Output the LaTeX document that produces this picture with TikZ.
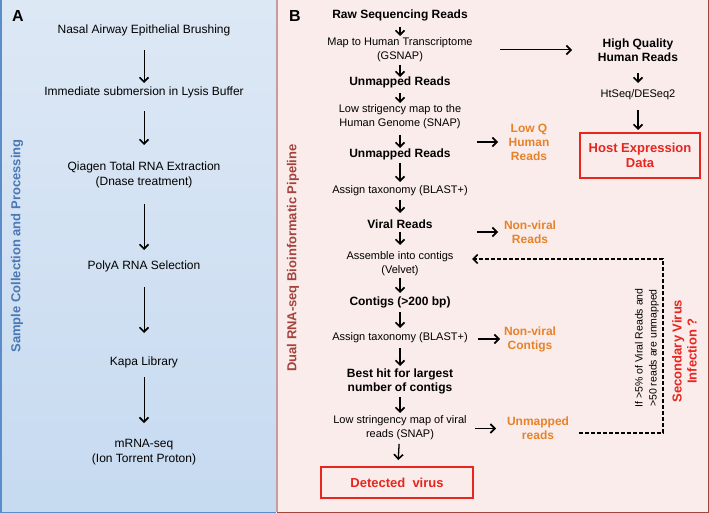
\documentclass[tikz,border=0pt]{standalone}
\usepackage{fontspec}
\setmainfont{Liberation Sans}
\usepackage{xcolor}
\usetikzlibrary{arrows.meta,calc}

\definecolor{bluetop}{HTML}{DDE8F5}
\definecolor{bluebot}{HTML}{C6DAF0}
\definecolor{blueedge}{HTML}{5A8DCA}
\definecolor{bluetext}{HTML}{4A78B5}
\definecolor{pinkfill}{HTML}{F9ECEA}
\definecolor{rededge}{HTML}{A4433E}
\definecolor{sepline}{HTML}{C79CA1}
\definecolor{outorange}{HTML}{E8822A}
\definecolor{resred}{HTML}{E8251F}

\begin{document}
\begin{tikzpicture}[x=1pt,y=-1pt,
    plainA/.style={font=\fontsize{12}{15}\selectfont, align=center},
    plainB/.style={font=\fontsize{11}{14}\selectfont, align=center},
    boldB/.style={font=\fontsize{12}{14}\selectfont\bfseries, align=center},
    outB/.style={boldB, text=outorange},
    boxB/.style={draw=resred, line width=1.8pt, text=resred, align=center,
        font=\fontsize{13}{15}\selectfont\bfseries},
    sidelabel/.style={rotate=90, font=\fontsize{13}{15}\selectfont\bfseries},
    panel/.style={font=\fontsize{16}{16}\selectfont\bfseries},
    flow/.style={-{Straight Barb[length=4.5pt,width=9pt,line width=1.6pt]}, line width=1pt},
    flowB/.style={-{Straight Barb[length=4.5pt,width=9pt,line width=1.6pt]}, line width=1.3pt},
    back/.style={-{Straight Barb[length=4.5pt,width=9pt,line width=1.6pt]}, line width=1.4pt,
        dash pattern=on 4pt off 2pt}
]
    \useasboundingbox (0,0) rectangle (709,513);

    % Panels
    \shade[top color=bluetop, bottom color=bluebot] (0,0) rectangle (276,513);
    \fill[pinkfill] (277,0) rectangle (709,513);
    \draw[blueedge, line width=1.5pt] (0.75,0) -- (0.75,512.25) -- (276,512.25);
    \draw[rededge, line width=1.5pt] (277,512.25) -- (708.25,512.25) -- (708.25,0);
    \draw[sepline, line width=2pt] (277,0) -- (277,511.5);

    % Panel A
    \node[panel] (labA) at (18,16) {A};
    \node[sidelabel, text=bluetext] (sideA) at (17,246) {Sample Collection and Processing};
    \node[plainA] (nasal) at (144,30) {Nasal Airway Epithelial Brushing};
    \node[plainA] (lysis) at (144,92) {Immediate submersion in Lysis Buffer};
    \node[plainA] (qiagen) at (144,174.5) {Qiagen Total RNA Extraction\\(Dnase treatment)};
    \node[plainA] (polya) at (144,266) {PolyA RNA Selection};
    \node[plainA] (kapa) at (144,362) {Kapa Library};
    \node[plainA] (mrna) at (144,452.5) {mRNA-seq\\(Ion Torrent Proton)};

    \foreach \a/\b/\s/\e in {nasal/lysis/20pt/9pt, lysis/qiagen/19pt/29.5pt,
        qiagen/polya/29.5pt/16pt, polya/kapa/21pt/29pt, kapa/mrna/15pt/29.5pt}
        \draw[flow, shorten <=\s, shorten >=\e] (\a.center) -- (\b.center);

    % Panel B
    \node[panel] (labB) at (295,16) {B};
    \node[sidelabel, text=rededge] (sideB) at (293,258) {Dual RNA-seq Bioinformatic Pipeline};

    % main column
    \node[boldB] (raw) at (400,15) {Raw Sequencing Reads};
    \node[plainB] (gsnap) at (400,50) {Map to Human Transcriptome\\(GSNAP)};
    \node[boldB] (unmapA) at (400,82) {Unmapped Reads};
    \node[plainB] (lowmap) at (400,116.5) {Low strigency map to the\\Human Genome (SNAP)};
    \node[boldB] (unmapB) at (400,154) {Unmapped Reads};
    \node[plainB] (blastA) at (400,191) {Assign taxonomy (BLAST+)};
    \node[boldB] (viral) at (400,224) {Viral Reads};
    \node[plainB] (velvet) at (400,263.5) {Assemble into contigs\\(Velvet)};
    \node[boldB] (contigs) at (400,302) {Contigs (>200 bp)};
    \node[plainB] (blastB) at (400,338) {Assign taxonomy (BLAST+)};
    \node[boldB] (besthit) at (400,381) {Best hit for largest\\number of contigs};
    \node[plainB] (snapviral) at (400,427.5) {Low stringency map of viral\\reads (SNAP)};
    \node[boxB, minimum width=152, minimum height=31] (detected) at (397,482.5) {Detected~ virus};

    \foreach \a/\b/\s/\e in {raw/gsnap/12pt/14pt, gsnap/unmapA/15pt/5pt,
        unmapA/lowmap/11pt/13.5pt, lowmap/unmapB/18.5pt/6pt, unmapB/blastA/9pt/9pt,
        blastA/viral/9pt/11pt, viral/velvet/8pt/18.5pt, velvet/contigs/14.5pt/9pt,
        contigs/blastB/10pt/10pt, blastB/besthit/10pt/15pt,
        besthit/snapviral/16pt/14.5pt, snapviral/detected/16.5pt/22.5pt}
        \draw[flowB, shorten <=\s, shorten >=\e] (\a.center) -- (\b.center);

    % host branch
    \node[boldB] (hq) at (638,50) {High Quality\\Human Reads};
    \node[plainB] (htseq) at (638,95) {HtSeq/DESeq2};
    \node[boxB, minimum width=120, minimum height=45] (host) at (640,155.5) {Host Expression\\Data};
    \draw[flow, shorten <=100pt, shorten >=66pt] (gsnap.center) -- (hq.center);
    \draw[flowB, shorten <=23pt, shorten >=12pt] (hq.center) -- (htseq.center);
    \draw[flowB, shorten <=15pt, shorten >=25.5pt] (htseq.center) -- (host.center -| htseq.center);

    % discarded reads
    \node[outB] (lowq) at (529,142) {Low Q\\Human\\Reads};
    \node[outB] (nvreads) at (530,232) {Non-viral\\Reads};
    \node[outB] (nvcontigs) at (530,339) {Non-viral\\Contigs};
    \node[outB] (unmapped) at (538,428.5) {Unmapped\\reads};
    \draw[flowB, shorten <=77pt, shorten >=31pt] (unmapB.center |- lowq.center) -- (lowq.center);
    \draw[flowB, shorten <=77pt, shorten >=32pt] (viral.center |- nvreads.center) -- (nvreads.center);
    \draw[flowB, shorten <=78pt, shorten >=30pt] (blastB.center |- nvcontigs.center) -- (nvcontigs.center);
    \draw[flowB, shorten <=75pt, shorten >=42pt] (snapviral.center |- unmapped.center) -- (unmapped.center);

    % secondary infection loop
    \coordinate (loop) at (663,259);
    \draw[back, shorten <=41pt, shorten >=72pt] ([yshift=-4.5pt]unmapped.center) -| (loop) -- (velvet.center |- loop);
    \node[rotate=90, font=\fontsize{10.5}{14}\selectfont, align=center] (cond) at (647,348)
        {If >5\% of Viral Reads and\\>50 reads are unmapped};
    \node[rotate=90, text=resred, font=\fontsize{13}{15}\selectfont\bfseries, align=center] (secinf) at (684.5,351)
        {Secondary Virus\\Infection ?};
\end{tikzpicture}
\end{document}
